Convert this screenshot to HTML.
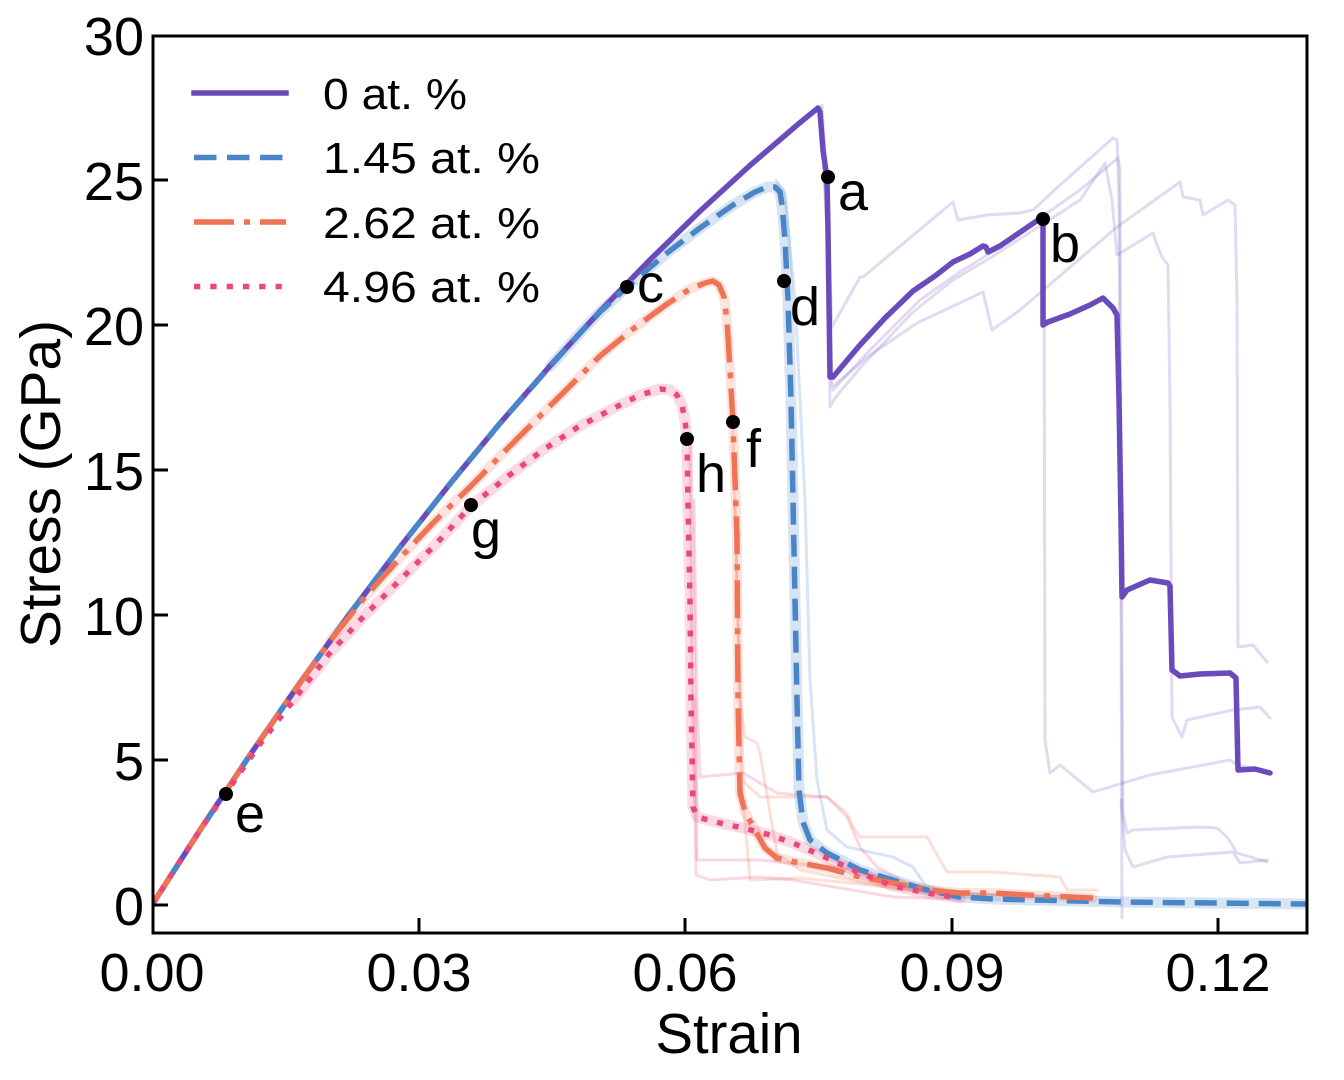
<!DOCTYPE html>
<html><head><meta charset="utf-8"><style>html,body{margin:0;padding:0;background:#fff}svg{display:block}</style></head>
<body>
<svg width="1344" height="1080" viewBox="0 0 1344 1080" xmlns="http://www.w3.org/2000/svg" font-family="'Liberation Sans', Arial, sans-serif">
<defs><clipPath id="pa"><rect x="153" y="36" width="1154" height="897"/></clipPath></defs>
<rect width="1344" height="1080" fill="#fff"/>
<g clip-path="url(#pa)" fill="none" stroke-linejoin="round" stroke-linecap="round">
<!-- faint purple -->
<g stroke="#6a4bbb" stroke-opacity="0.2" stroke-width="3">
<polyline points="822,105 828,200 830,407 835,398 860,368 913,312 953,280 990,258 1040,226 1080,200 1105,163 1112,200 1117,255 1153,233 1157,245 1162,257 1168,265 1170,400 1172,717 1182,737 1187,720 1233,710 1260,707 1270,718"/>
<polyline points="820,110 829,250 832,327 860,277 863,277 887,257 953,202 958,220 987,215 1020,213 1033,210 1060,185 1113,138 1117,140 1119,200 1121,600 1122,918"/>
<polyline points="821,110 830,300 832,387 870,355 917,323 983,292 992,330 1020,310 1117,227 1180,182 1183,197 1200,200 1203,215 1228,200 1235,205 1237,300 1238,647 1253,645 1267,662"/>
<polyline points="833,390 870,350 920,300 960,272 1000,247 1040,218 1080,190 1118,158 1120,170 1121,500 1123,813 1127,833 1133,830 1200,827 1217,828 1227,837 1237,853 1267,862"/>
<polyline points="1040,215 1044,225 1045,740 1050,773 1060,765 1093,792 1150,775 1230,760 1237,765 1270,772"/>
<polyline points="1121,800 1125,850 1133,867 1167,857 1233,852 1240,863 1267,860"/>
</g>
<!-- faint pink -->
<g stroke="#e9487a" stroke-opacity="0.22" stroke-width="3">
<polyline points="690,440 692,680 696,875 710,880 760,877 793,880 893,897 960,899"/>
<polyline points="694,500 697,700 700,777 743,773 777,793 827,797 847,817 860,847 877,867 920,890 960,897"/>
<polyline points="695,700 697,860 760,860 860,870 900,885 950,896"/>
</g>
<!-- faint orange -->
<g stroke="#ee7455" stroke-opacity="0.22" stroke-width="3">
<polyline points="732,400 740,700 745,737 757,743 760,753 770,813 777,853 800,870 850,880 900,890 1000,895 1090,897"/>
<polyline points="735,500 742,780 760,797 827,797 847,813 853,827 860,837 927,837 940,860 947,872 993,872 1060,877 1067,890 1097,890"/>
<polyline points="742,790 750,880 800,878 870,885 950,893 1050,897"/>
</g>
<!-- faint blue -->
<g stroke="#4a85c7" stroke-opacity="0.22" stroke-width="3">
<polyline points="776,180 785,195 795,300 805,500 810,680 817,780 827,830 847,847 893,857 913,867 925,885 960,897 1000,900"/>
</g>
<!-- halos -->
<polyline stroke="#4a85c7" stroke-opacity="0.22" stroke-width="11" points="550,366.5 580,333 600,312 627,287 667,253 700,228 733,205 755,192 767,187 775,187 780,192 782,205 785,240 788,300 791,400 794,550 797,700 799,790 803,822 810,840 827,853 860,870 893,880 927,890 960,897 993,899 1120,902 1307,904"/>
<polyline stroke="#ee7455" stroke-opacity="0.2" stroke-width="10" points="330,641 365,597 400,558 435,521 471,486 507,449 543,413 572,384 600,356 633,329 667,304 690,289 705,283 713,281 719,285 724,297 727,320 730,370 733,422 735,480 737,537 738,700 740,793 745,812 755,830 765,848 777,858 800,863 827,868 860,877 893,883 927,890 960,893 993,893 1027,895 1093,898"/>
<polyline stroke="#e9487a" stroke-opacity="0.2" stroke-width="11" points="293,701 329,654 365,615 400,580 435,545 471,506 507,477 543,450 578,427 614,408 640,395 660,389 670,390 677,395 682,405 685,420 687,440 688,503 690,600 691,700 693,807 697,817 720,823 743,828 770,835 793,843 827,858 860,873 893,886 927,893 960,898"/>
<!-- main lines -->
<polyline stroke="#6a4bbb" stroke-width="5.5" points="152,905 200,830.1 250,754.9 300,682.7 350,613.5 400,547.1 450,483.8 500,423.3 550,365.9 600,311.3 650,259.8 700,211.1 750,165.4 800,122.6 818,108 820,112 823,150 827,178 828,230 830,377 833,377 860,345 885,318 913,291 935,276 953,262 970,254 983,246 986,247 988,252 1000,246 1038,220 1043,222 1043,325 1048,322 1070,314 1090,305 1103,298 1113,308 1117,315 1119,400 1120,460 1121,520 1122,597 1127,590 1150,580 1168,583 1170,586 1172,670 1180,676 1200,674 1230,673 1236,678 1238,770 1255,769 1270,773"/>
<polyline stroke="#4a85c7" stroke-width="5.5" stroke-linecap="butt" stroke-dasharray="22 10" points="152,905 200,830.1 250,754.9 300,682.7 350,613.5 400,547.1 450,483.8 500,423.3 550,366.5 580,333 600,312 627,287 667,253 700,228 733,205 755,192 767,187 775,187 780,192 782,205 785,240 788,300 791,400 794,550 797,700 799,790 803,822 810,840 827,853 860,870 893,880 927,890 960,897 993,899 1120,902 1307,904"/>
<polyline stroke="#ee7455" stroke-width="5.5" stroke-linecap="butt" stroke-dasharray="38 10 6 10" points="152,905 200,830 250,755 300,683 330,641 365,597 400,558 435,521 471,486 507,449 543,413 572,384 600,356 633,329 667,304 690,289 705,283 713,281 719,285 724,297 727,320 730,370 733,422 735,480 737,537 738,700 740,793 745,812 755,830 765,848 777,858 800,863 827,868 860,877 893,883 927,890 960,893 993,893 1027,895 1093,898"/>
<polyline stroke="#e9487a" stroke-width="5.5" stroke-linecap="butt" stroke-dasharray="6 10" points="152,905 200,830 226,793 260,744 293,701 329,654 365,615 400,580 435,545 471,506 507,477 543,450 578,427 614,408 640,395 660,389 670,390 677,395 682,405 685,420 687,440 688,503 690,600 691,700 693,807 697,817 720,823 743,828 770,835 793,843 827,858 860,873 893,886 927,893 960,898"/>
<!-- markers -->
<g fill="#000" stroke="none">
<circle cx="828" cy="177" r="7"/><circle cx="1043" cy="219" r="7"/><circle cx="627" cy="287" r="7"/><circle cx="784" cy="281" r="7"/>
<circle cx="226" cy="794" r="7"/><circle cx="733" cy="422" r="7"/><circle cx="471" cy="505" r="7"/><circle cx="687" cy="439" r="7"/>
</g>
</g>
<!-- annotations -->
<g font-size="54" fill="#000">
<text x="838" y="210">a</text>
<text x="1050" y="262">b</text>
<text x="637" y="302">c</text>
<text x="790" y="325">d</text>
<text x="235" y="832">e</text>
<text x="746" y="467">f</text>
<text x="471" y="548">g</text>
<text x="696" y="492">h</text>
</g>
<!-- frame -->
<rect x="153" y="36" width="1154" height="897" fill="none" stroke="#000" stroke-width="3"/>
<g stroke="#000" stroke-width="3">
<line x1="153" y1="180" x2="168" y2="180"/><line x1="153" y1="325" x2="168" y2="325"/><line x1="153" y1="470" x2="168" y2="470"/>
<line x1="153" y1="615" x2="168" y2="615"/><line x1="153" y1="760" x2="168" y2="760"/><line x1="153" y1="905" x2="168" y2="905"/>
<line x1="419" y1="933" x2="419" y2="918"/><line x1="685" y1="933" x2="685" y2="918"/><line x1="952" y1="933" x2="952" y2="918"/><line x1="1218" y1="933" x2="1218" y2="918"/>
</g>
<!-- tick labels -->
<g font-size="54" fill="#000" text-anchor="end">
<text x="144" y="55">30</text><text x="144" y="200">25</text><text x="144" y="345">20</text>
<text x="144" y="490">15</text><text x="144" y="635">10</text><text x="144" y="780">5</text><text x="144" y="925">0</text>
</g>
<g font-size="54" fill="#000" text-anchor="middle">
<text x="152" y="991">0.00</text><text x="419" y="991">0.03</text><text x="685" y="991">0.06</text><text x="952" y="991">0.09</text><text x="1218" y="991">0.12</text>
</g>
<text x="729" y="1053" font-size="57" text-anchor="middle" textLength="147" lengthAdjust="spacingAndGlyphs">Strain</text>
<text transform="translate(60,484) rotate(-90)" font-size="57" text-anchor="middle" textLength="328" lengthAdjust="spacingAndGlyphs">Stress (GPa)</text>
<!-- legend -->
<g fill="none">
<line x1="194" y1="93" x2="286" y2="93" stroke="#6a4bbb" stroke-width="5.5" stroke-linecap="square"/>
<line x1="194" y1="157.5" x2="286" y2="157.5" stroke="#4a85c7" stroke-width="5.5" stroke-dasharray="22.5 10.5"/>
<line x1="194" y1="222" x2="286" y2="222" stroke="#ee7455" stroke-width="5.5" stroke-dasharray="40 10 6 10"/>
<line x1="194" y1="286.5" x2="286" y2="286.5" stroke="#e9487a" stroke-width="5.5" stroke-dasharray="6.3 10"/>
</g>
<g font-size="44" fill="#000">
<text x="323" y="109" textLength="144" lengthAdjust="spacingAndGlyphs">0 at. %</text>
<text x="323" y="173" textLength="217" lengthAdjust="spacingAndGlyphs">1.45 at. %</text>
<text x="323" y="238" textLength="217" lengthAdjust="spacingAndGlyphs">2.62 at. %</text>
<text x="323" y="302" textLength="217" lengthAdjust="spacingAndGlyphs">4.96 at. %</text>
</g>
</svg>
</body></html>
